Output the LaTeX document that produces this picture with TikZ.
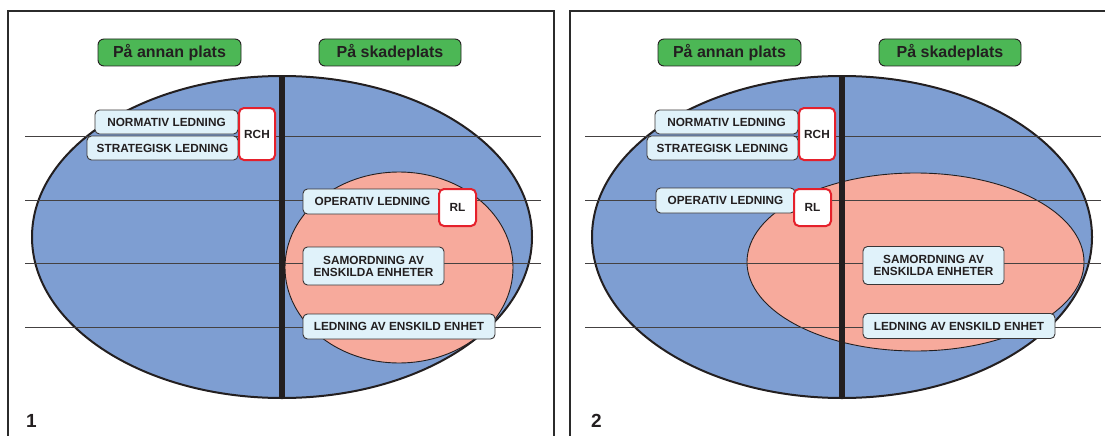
\documentclass[tikz,border=0pt]{standalone}
\usepackage{fontspec}
\setmainfont{Liberation Sans}
\usetikzlibrary{positioning}
\definecolor{frameC}{HTML}{2B2B2B}
\definecolor{outerC}{HTML}{7E9ED2}
\definecolor{innerC}{HTML}{F7AA9C}
\definecolor{headC}{HTML}{4CB755}
\definecolor{boxC}{HTML}{E0F2FA}
\definecolor{redC}{HTML}{E5202B}
\definecolor{inkC}{HTML}{231F20}
\tikzset{
  panelframe/.style={draw=frameC, line width=1.6pt},
  outer/.style={fill=outerC, draw=inkC, line width=2pt},
  inner/.style={fill=innerC, draw=inkC, line width=0.9pt},
  level/.style={draw=inkC!85, line width=1pt},
  divider/.style={draw=inkC, line width=6.5pt},
  header/.style={draw=inkC, line width=0.9pt, fill=headC, rounded corners=6pt,
    minimum width=143pt, minimum height=27pt, inner sep=0pt, text=inkC,
    font=\fontsize{16}{16}\selectfont\bfseries},
  task/.style={draw=inkC!90, line width=0.9pt, fill=boxC, rounded corners=4.5pt,
    minimum height=24pt, inner sep=0pt, text=inkC, align=center,
    font=\fontsize{11.8}{12}\selectfont\bfseries},
  role/.style={draw=redC, line width=2pt, fill=white, rounded corners=5pt,
    inner sep=0pt, text=inkC, font=\fontsize{11.8}{12}\selectfont\bfseries},
  panelno/.style={inner sep=0pt, text=inkC, font=\fontsize{19}{19}\selectfont\bfseries}
}
\begin{document}
\begin{tikzpicture}[x=1pt,y=-1pt]
\useasboundingbox (0,0) rectangle (1105,436);

% ---------------- panel 1 ----------------
\draw[panelframe] (8,440) |- (554,11) -- (554,440);
\path[outer] (282,237) ellipse [x radius=250, y radius=161];
\path[inner] (399,267.5) ellipse [x radius=114, y radius=95.5];
\foreach \yy in {136,200,263,327}
  \draw[level] (25,\yy) -- (541,\yy);
\draw[divider] (282,76) -- (282,398);

\node[header] (h1a) at (169.5,52.5) {På annan plats};
\node[header, minimum width=142pt] (h1b) at (390,52.5) {På skadeplats};

\node[task, minimum width=143pt] (norm1) at (166.5,122) {NORMATIV LEDNING};
\node[task, minimum width=151pt] (strat1) at (162.5,148) {STRATEGISK LEDNING};
\node[role, minimum width=36pt, minimum height=52pt] (rch1) at (257,134) {RCH};
\node[task, minimum width=139pt, minimum height=25pt] (oper1) at (372.5,201.5) {OPERATIV LEDNING};
\node[role, minimum width=37pt, minimum height=37pt] (rl1) at (457.5,207.5) {RL};
\node[task, minimum width=141pt, minimum height=38pt] (samo1) at (373.5,266) {SAMORDNING AV\\ENSKILDA ENHETER};
\node[task, minimum width=192pt, minimum height=25pt] (enh1) at (399,326.5) {LEDNING AV ENSKILD ENHET};
\node[panelno, anchor=south west] (n1) at (26,428) {1};

% ---------------- panel 2 ----------------
\draw[panelframe] (570,440) |- (1112,11);
\path[outer] (842,237) ellipse [x radius=250, y radius=161];
\path[inner] (915.5,262) ellipse [x radius=168.5, y radius=89];
\foreach \yy in {136,200,263,327}
  \draw[level] (585,\yy) -- (1101,\yy);
\draw[divider] (842,76) -- (842,398);

\node[header] (h2a) at (729.5,52.5) {På annan plats};
\node[header, minimum width=142pt] (h2b) at (950,52.5) {På skadeplats};

\node[task, minimum width=143pt] (norm2) at (726.5,122) {NORMATIV LEDNING};
\node[task, minimum width=151pt] (strat2) at (722.5,148) {STRATEGISK LEDNING};
\node[role, minimum width=36pt, minimum height=52pt] (rch2) at (817,134) {RCH};
\node[task, minimum width=139pt, minimum height=25pt] (oper2) at (725.5,200.5) {OPERATIV LEDNING};
\node[role, minimum width=37pt, minimum height=37pt] (rl2) at (812.5,207.5) {RL};
\node[task, minimum width=141pt, minimum height=38pt] (samo2) at (933.5,265.5) {SAMORDNING AV\\ENSKILDA ENHETER};
\node[task, minimum width=192pt, minimum height=25pt] (enh2) at (959,326) {LEDNING AV ENSKILD ENHET};
\node[panelno, anchor=south west] (n2) at (591,428) {2};
\end{tikzpicture}
\end{document}
